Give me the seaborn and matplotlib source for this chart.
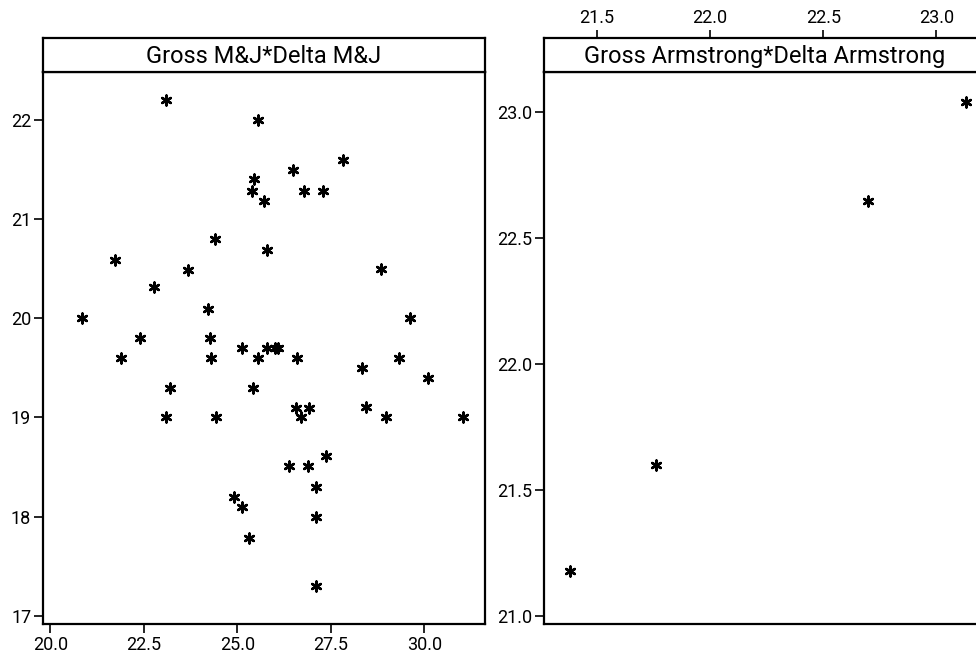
import numpy as np
import pandas as pd
import matplotlib
matplotlib.use("Agg")
import matplotlib.pyplot as plt
import seaborn as sns
from matplotlib.ticker import FormatStrFormatter, MultipleLocator

# ---------------------------
# Data
# ---------------------------
mj_gross = [23.1, 25.55, 25.45, 25.4, 25.7, 26.48, 26.78, 27.29, 27.83, 25.78,
            24.40, 23.68, 22.78, 21.72, 20.83, 24.2, 24.27, 22.39, 28.85, 29.61,
            21.89, 24.29, 25.11, 25.56, 25.78, 26.0, 26.09, 26.58, 23.2, 25.42,
            23.09, 24.42, 26.56, 26.92, 26.70, 27.37, 26.39, 26.88, 27.10, 27.10,
            27.10, 24.91, 25.11, 25.32, 28.32, 29.32, 30.10, 28.43, 28.96, 31.04]
mj_delta = [22.2, 22.0, 21.4, 21.28, 21.18, 21.49, 21.28, 21.28, 21.59, 20.69,
            20.80, 20.49, 20.31, 20.59, 20.0, 20.09, 19.80, 19.80, 20.50, 20.0,
            19.60, 19.60, 19.70, 19.60, 19.70, 19.70, 19.70, 19.60, 19.30, 19.30,
            19.0, 19.0, 19.10, 19.10, 19.0, 18.61, 18.51, 18.51, 18.30, 18.0,
            17.3, 18.2, 18.1, 17.79, 19.50, 19.60, 19.40, 19.11, 19.0, 19.0]

arm_gross = [21.38, 21.76, 22.70, 23.13]
arm_delta = [21.18, 21.60, 22.65, 23.04]

mj = pd.DataFrame({"Gross M&J": mj_gross, "Delta M&J": mj_delta})
arm = pd.DataFrame({"Gross Armstrong": arm_gross, "Delta Armstrong": arm_delta})

# ---------------------------
# Style
# ---------------------------
sns.set_style("white")
plt.rcParams["font.family"] = ["Roboto", "DejaVu Sans"]
plt.rcParams["text.color"] = "black"
plt.rcParams["xtick.color"] = "black"
plt.rcParams["ytick.color"] = "black"

W, H = 976, 659
fig = plt.figure(figsize=(W / 100, H / 100), dpi=100)


def px(l, t, r, b):
    return [l / W, 1 - b / H, (r - l) / W, (b - t) / H]


def frame(ax):
    for s in ax.spines.values():
        s.set_visible(True)
        s.set_color("black")
        s.set_linewidth(1.6)


marker_kw = dict(marker=(6, 2, 0), color="black", s=50, linewidth=1.8)

# ---------------------------
# Left panel: Gross M&J * Delta M&J
# ---------------------------
ax1 = fig.add_axes(px(43, 72, 485, 624))
hd1 = fig.add_axes(px(43, 38, 485, 72), sharex=ax1)
sns.scatterplot(data=mj, x="Gross M&J", y="Delta M&J", ax=ax1, **marker_kw)
ax1.set_xlim(19.8, 31.62)
ax1.set_ylim(16.92, 22.48)
ax1.xaxis.set_major_locator(MultipleLocator(2.5))
ax1.xaxis.set_major_formatter(FormatStrFormatter("%.1f"))
ax1.yaxis.set_major_locator(MultipleLocator(1))
ax1.set_xlabel("")
ax1.set_ylabel("")
ax1.tick_params(axis="both", direction="out", length=6.5, width=1.2,
                labelsize=13, pad=2, bottom=True, left=True)
frame(ax1)

hd1.tick_params(left=False, bottom=False, labelleft=False, labelbottom=False)
frame(hd1)
hd1.text(0.5, 0.45, "Gross M&J*Delta M&J", transform=hd1.transAxes,
         ha="center", va="center", fontsize=17)

# ---------------------------
# Right panel: Gross Armstrong * Delta Armstrong
# ---------------------------
ax2 = fig.add_axes(px(544, 72, 986, 624))
hd2 = fig.add_axes(px(544, 38, 986, 72), sharex=ax2)
sns.scatterplot(data=arm, x="Gross Armstrong", y="Delta Armstrong", ax=ax2, **marker_kw)
ax2.set_xlim(21.265, 23.22)
ax2.set_ylim(20.97, 23.16)
ax2.xaxis.set_major_locator(MultipleLocator(0.5))
ax2.xaxis.set_major_formatter(FormatStrFormatter("%.1f"))
ax2.yaxis.set_major_locator(MultipleLocator(0.5))
ax2.yaxis.set_major_formatter(FormatStrFormatter("%.1f"))
ax2.set_xlabel("")
ax2.set_ylabel("")
ax2.tick_params(axis="y", direction="out", length=6.5, width=1.2,
                labelsize=13, pad=2, left=True)
ax2.tick_params(axis="x", bottom=False, labelbottom=False)
frame(ax2)

hd2.tick_params(left=False, labelleft=False, bottom=False, labelbottom=False,
                top=True, labeltop=True, direction="out", length=6, width=1.2,
                labelsize=13, pad=2)
frame(hd2)
hd2.text(0.5, 0.45, "Gross Armstrong*Delta Armstrong", transform=hd2.transAxes,
         ha="center", va="center", fontsize=17)

fig.savefig("out.png", dpi=100)
